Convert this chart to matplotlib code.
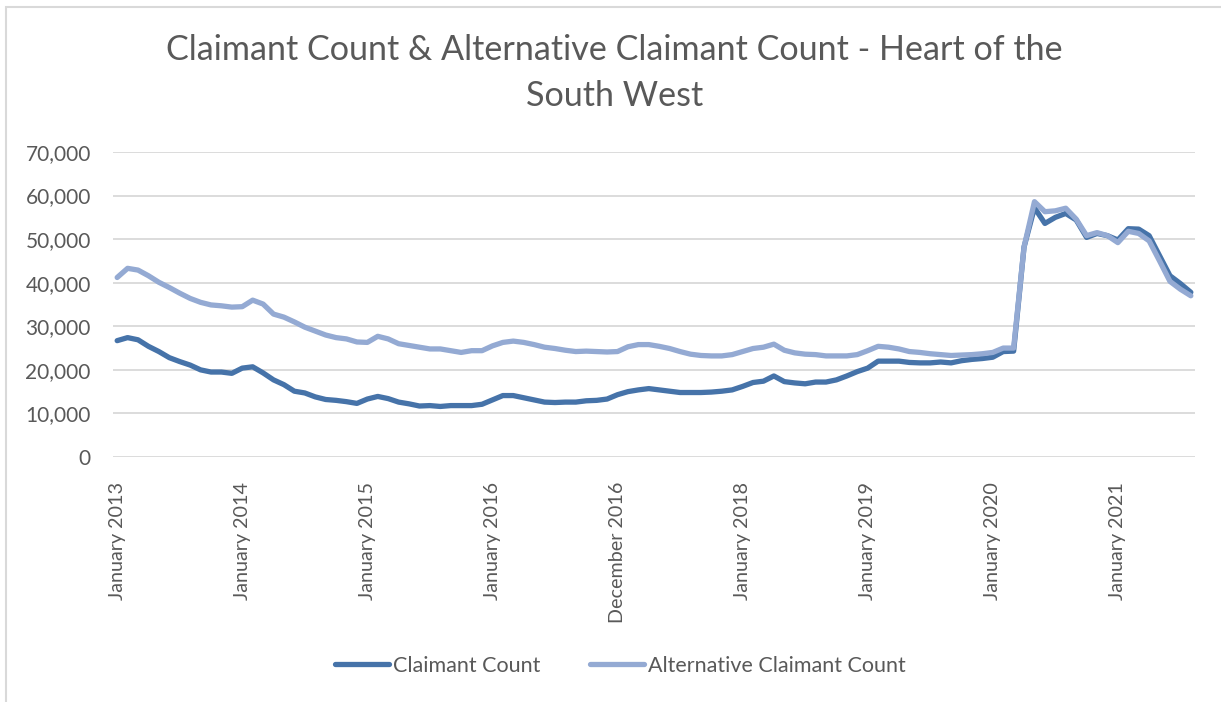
import matplotlib
matplotlib.use("Agg")
import matplotlib.pyplot as plt
from matplotlib.patches import Rectangle

# monthly values, Jan 2013 onwards
claimant = [
    26700, 27400, 26900, 25400, 24200, 22800, 21900, 21100, 20000, 19500,
    19500, 19200, 20400, 20700, 19300, 17700, 16600, 15100, 14700, 13800,
    13200, 13000, 12700, 12300, 13300, 13900, 13400, 12600, 12200, 11700,
    11800, 11600, 11800, 11800, 11800, 12100, 13100, 14100, 14100, 13600,
    13100, 12600, 12500, 12600, 12600, 12900, 13000, 13300, 14300, 15000,
    15400, 15700, 15400, 15100, 14800, 14800, 14800, 14900, 15100, 15400,
    16200, 17100, 17400, 18600, 17300, 17000, 16800, 17200, 17200, 17700,
    18600, 19600, 20400, 22000, 22000, 22000, 21700, 21600, 21600, 21800,
    21600, 22100, 22400, 22600, 22900, 24200, 24300, 48200, 57200, 53600,
    55000, 55900, 54400, 50400, 51300, 50800, 49800, 52400, 52300, 50800,
    46200, 41600, 39800, 37800,
]
alternative = [
    41200, 43300, 42900, 41600, 40100, 38900, 37600, 36400, 35500, 34900,
    34700, 34400, 34500, 36000, 35100, 32800, 32100, 31000, 29800, 28900,
    28000, 27400, 27100, 26400, 26300, 27700, 27100, 26000, 25600, 25200,
    24800, 24800, 24400, 24000, 24400, 24400, 25500, 26300, 26600, 26300,
    25800, 25200, 24900, 24500, 24200, 24300, 24200, 24100, 24200, 25300,
    25800, 25800, 25400, 24900, 24200, 23600, 23300, 23200, 23200, 23500,
    24200, 24900, 25200, 25900, 24500, 23900, 23600, 23500, 23200, 23200,
    23200, 23500, 24400, 25400, 25200, 24800, 24200, 24000, 23700, 23500,
    23300, 23400, 23500, 23700, 24000, 25000, 25000, 48200, 58600, 56300,
    56500, 57100, 54600, 50800, 51500, 50800, 49200, 51800, 51300, 49600,
    45000, 40300, 38500, 37000,
]
tick_labels = [
    "January 2013", "January 2014", "January 2015", "January 2016",
    "December 2016", "January 2018", "January 2019", "January 2020",
    "January 2021",
]
y_ticks = [0, 10000, 20000, 30000, 40000, 50000, 60000, 70000]

TEXT = "#595959"
DARK = "#4673A9"
LIGHT = "#94AAD3"

plt.rcParams["font.family"] = ["Lato", "DejaVu Sans"]

fig = plt.figure(figsize=(12.21, 7.02), dpi=100)
ax = fig.add_axes([113 / 1221, 1 - 457 / 702, (1195 - 113) / 1221, (457 - 152) / 702])

# chart border (only top and left visible in the crop)
fig.add_artist(Rectangle((6 / 1221, -0.1), 1.2, 1.1 - 7 / 702, transform=fig.transFigure,
                         fill=False, edgecolor="#D9D9D9", lw=1.5))

x = list(range(len(claimant)))
ax.plot(x, claimant, color=DARK, lw=3.8, solid_joinstyle="round", solid_capstyle="round",
        label="Claimant Count")
ax.plot(x, alternative, color=LIGHT, lw=3.8, solid_joinstyle="round", solid_capstyle="round",
        label="Alternative Claimant Count")

ax.set_xlim(-0.4, len(x) - 0.6)
ax.set_ylim(0, 70000)
ax.set_yticks(y_ticks)
ax.set_yticklabels([f"{v:,}" for v in y_ticks])
ax.set_xticks(range(0, len(x), 12))
ax.set_xticklabels(tick_labels, rotation=90)
ax.tick_params(axis="both", length=0, colors=TEXT)
ax.tick_params(axis="x", pad=18, labelsize=14.2)
ax.tick_params(axis="y", pad=16, labelsize=15)
ax.grid(axis="y", color="#D9D9D9", lw=1.3)
ax.set_axisbelow(True)
for s in ax.spines.values():
    s.set_visible(False)

fig.text(0.5035, 1 - 34 / 702, "Claimant Count & Alternative Claimant Count - Heart of the\nSouth West",
         ha="center", va="top", fontsize=24.6, color=TEXT, linespacing=1.55)

leg = fig.legend(loc="center", bbox_to_anchor=(620 / 1221, 1 - 666 / 702), ncol=2, frameon=False,
                 fontsize=15.5, handlelength=2.55, handletextpad=0.15, columnspacing=2.3)
for t in leg.get_texts():
    t.set_color(TEXT)

fig.savefig("out.png", dpi=100)
